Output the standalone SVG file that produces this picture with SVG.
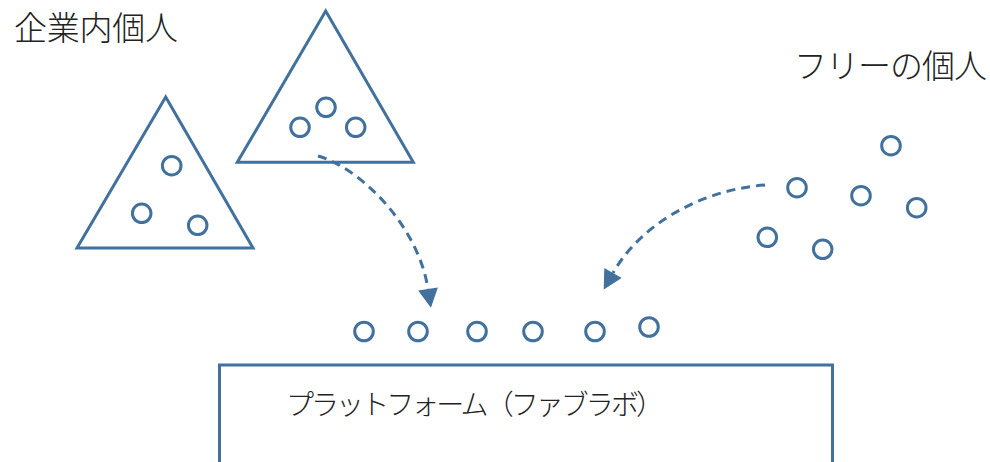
<svg xmlns="http://www.w3.org/2000/svg" width="990" height="462" viewBox="0 0 990 462">
<defs>
<style>
.shape{fill:none;stroke:#41719C;stroke-width:3;stroke-linejoin:miter}
.dot{fill:#fff;stroke:#41719C;stroke-width:3}
.conn{fill:none;stroke:#41719C;stroke-width:3;stroke-dasharray:9 6}
.lbl{font-family:"Noto Sans CJK JP","Noto Sans CJK SC",sans-serif;fill:#222;font-weight:300}
</style>
<marker id="arr" markerUnits="userSpaceOnUse" markerWidth="20" markerHeight="20" viewBox="0 0 18 19" refX="0" refY="9.5" orient="auto">
<path d="M0,0 L18,9.5 L0,19 z" fill="#41719C"/>
</marker>
</defs>
<rect width="990" height="462" fill="#fff"/>
<g id="label-corporate"><text class="lbl" x="14" y="40" font-size="33" textLength="164" lengthAdjust="spacing">企業内個人</text></g>
<g id="label-free"><text class="lbl" x="794" y="77.5" font-size="33" textLength="193" lengthAdjust="spacing">フリーの個人</text></g>
<g id="triangle-left">
<polygon class="shape" points="165.7,97 77,248 253,248"/>
<circle class="dot" cx="171.7" cy="165.7" r="9.3"/>
<circle class="dot" cx="141.7" cy="213.3" r="9.3"/>
<circle class="dot" cx="197.7" cy="225.3" r="9.3"/>
</g>
<g id="triangle-right">
<polygon class="shape" points="325.7,11 237.3,162.3 413.3,162.3"/>
<circle class="dot" cx="326" cy="107.3" r="9.3"/>
<circle class="dot" cx="300" cy="127.3" r="9.3"/>
<circle class="dot" cx="355.7" cy="127.3" r="9.3"/>
</g>
<g id="free-individuals">
<circle class="dot" cx="891" cy="145.7" r="9.3"/>
<circle class="dot" cx="797" cy="187.7" r="9.3"/>
<circle class="dot" cx="861" cy="195.7" r="9.3"/>
<circle class="dot" cx="916.7" cy="207.7" r="9.3"/>
<circle class="dot" cx="767.3" cy="237.3" r="9.3"/>
<circle class="dot" cx="822.7" cy="249.3" r="9.3"/>
</g>
<g id="platform-individuals">
<circle class="dot" cx="364" cy="331.5" r="9.3"/>
<circle class="dot" cx="418" cy="331.5" r="9.3"/>
<circle class="dot" cx="477" cy="331.5" r="9.3"/>
<circle class="dot" cx="533" cy="331.5" r="9.3"/>
<circle class="dot" cx="595" cy="331.5" r="9.3"/>
<circle class="dot" cx="649" cy="327" r="9.3"/>
</g>
<g id="platform">
<rect class="shape" x="219.5" y="365" width="613" height="110"/>
<text class="lbl" x="286" y="415" font-size="28" textLength="378" lengthAdjust="spacing">プラットフォーム（ファブラボ）</text>
</g>
<g id="connectors">
<path class="conn" d="M318,156 C360,168 418,225 428,289" marker-end="url(#arr)"/>
<path class="conn" d="M765,185 C700,190 640,225 613,273" marker-end="url(#arr)"/>
</g>
</svg>
